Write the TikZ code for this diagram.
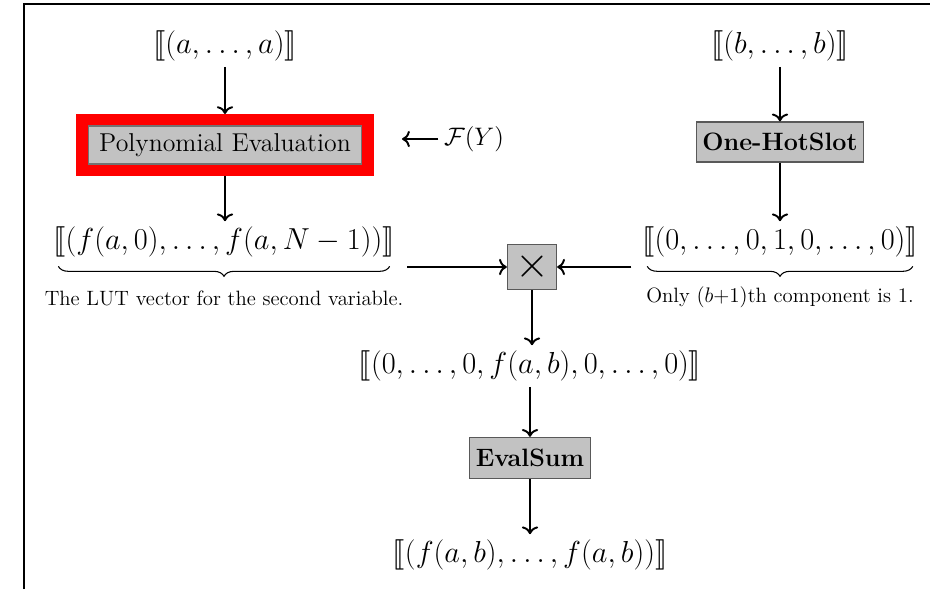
\documentclass[tikz,border=0pt]{standalone}
\usepackage{amsmath,amssymb,stmaryrd}
\usetikzlibrary{arrows.meta,decorations.pathreplacing}

\begin{document}
\begin{tikzpicture}[
  x=0.02cm,y=-0.02cm,>={To[scale=1.1]},
  vec/.style={inner sep=3pt,font=\fontsize{16.3}{19}\selectfont},
  opbox/.style={draw=black!65,fill=black!24,line width=.8pt,inner sep=0pt,font=\fontsize{14.3}{16}\selectfont\bfseries},
  note/.style={inner sep=1pt,font=\fontsize{11.8}{14}\selectfont},
  flow/.style={->,line width=1.1pt},
  under/.style={decorate,decoration={brace,mirror,amplitude=.2cm},line width=.6pt}
]
\useasboundingbox (0,0) rectangle (930,589);
% frame of the original figure, only top and left edges show
\draw[line width=1.5pt] (24,589) -- (24,4) -- (930,4);

% left branch
\node[vec] (avec) at (225,46) {$\llbracket(a,\ldots,a)\rrbracket$};
\node[draw=red,line width=.24cm,minimum width=5.72cm,minimum height=1cm] (polyred) at (225,145) {};
\node[draw=black!55,fill=black!24,line width=.6pt,minimum width=5.46cm,minimum height=.76cm,inner sep=0pt,font=\fontsize{14.7}{17}\selectfont] (poly) at (225,145) {Polynomial Evaluation};
\node[vec,font=\fontsize{14}{16}\selectfont] (FY) at (474,139) {$\mathcal{F}(Y)$};
\node[vec] (lut) at (224,242) {$\llbracket(f(a,0),\ldots,f(a,N-1))\rrbracket$};
\node[note] (lutnote) at (224,298) {The LUT vector for the second variable.};
\draw[flow] (avec) -- (polyred);
\draw[flow] (FY.west) -- ([xshift=16]FY.west -| polyred.east);
\draw[flow] (polyred) -- (polyred |- lut.north);
\draw[under] ([xshift=6,yshift=-2]lut.south west) -- ([xshift=-6,yshift=-2]lut.south east);

% right branch
\node[vec] (bvec) at (780,46) {$\llbracket(b,\ldots,b)\rrbracket$};
\node[opbox,minimum width=3.34cm,minimum height=.8cm] (onehot) at (780,142) {One-HotSlot};
\node[vec] (hot) at (780,242) {$\llbracket(0,\ldots,0,1,0,\ldots,0)\rrbracket$};
\node[note] (hotnote) at (780,297) {Only $(b{+}1)$th component is 1.};
\draw[flow] (bvec) -- (onehot);
\draw[flow] (onehot) -- (hot);
\draw[under] ([xshift=6,yshift=-2]hot.south west) -- ([xshift=-6,yshift=-2]hot.south east);

% product and sum
\node[opbox,minimum width=.98cm,minimum height=.9cm,font=\fontsize{30}{30}\selectfont] (mult) at (532,267) {$\times$};
\node[vec] (masked) at (530,366) {$\llbracket(0,\ldots,0,f(a,b),0,\ldots,0)\rrbracket$};
\node[opbox,minimum width=2.42cm,minimum height=.82cm] (evalsum) at (530,458) {EvalSum};
\node[vec] (result) at (530,555) {$\llbracket(f(a,b),\ldots,f(a,b))\rrbracket$};
\draw[flow] ([xshift=4]lut.east |- mult) -- (mult);
\draw[flow] ([xshift=-3]hot.west |- mult) -- (mult);
\draw[flow] (mult) -- (mult |- masked.north);
\draw[flow] (masked.south -| evalsum) -- (evalsum);
\draw[flow] (evalsum) -- (result);
\end{tikzpicture}
\end{document}
